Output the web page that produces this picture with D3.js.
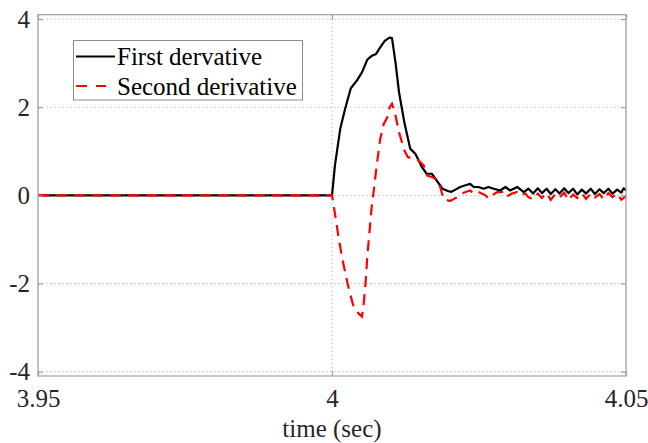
<!DOCTYPE html>
<html>
<head>
<meta charset="utf-8">
<script src="https://cdn.jsdelivr.net/npm/d3@7"></script>
<style>
  html, body { margin: 0; padding: 0; background: #fff; }
  svg { display: block; }
  text { font-family: "Liberation Serif", "Times New Roman", serif; }
</style>
</head>
<body>
<svg id="chart" width="648" height="443"></svg>
<script>
// ---- data (time in ms after 4.000 s) ----
const firstT = [-50, 0, 0.5, 1.4, 2.2, 3.2, 4.2, 5.1, 6.0, 6.8, 7.5, 8.2, 9.0, 9.8, 10.2, 10.8, 11.4, 12.3, 13.3, 14.2, 15.3, 16.1, 17.0, 18.0, 18.8, 19.7, 20.3, 21.0, 21.8, 22.7, 23.5, 24.1, 24.9, 25.8, 26.6, 27.5, 28.6, 29.5, 30.3, 31.5, 32.6, 33.4, 34.2, 35.0, 35.7, 36.5, 37.2, 38.0, 38.7, 39.5, 40.2, 41.0, 41.7, 42.5, 43.2, 44.0, 44.7, 45.5, 46.2, 47.0, 47.7, 48.5, 49.2, 49.6, 50.0];
const firstV = [0, 0, 0.68, 1.51, 1.95, 2.43, 2.6, 2.79, 3.08, 3.17, 3.21, 3.36, 3.51, 3.58, 3.57, 3.02, 2.34, 1.66, 1.06, 0.94, 0.64, 0.49, 0.49, 0.3, 0.15, 0.1, 0.08, 0.13, 0.19, 0.23, 0.26, 0.19, 0.19, 0.15, 0.19, 0.15, 0.11, 0.19, 0.11, 0.19, 0.075, 0.15, 0.04, 0.16, 0.05, 0.15, 0.03, 0.14, 0.04, 0.16, 0.05, 0.15, 0.02, 0.13, 0.04, 0.15, 0.03, 0.14, 0.05, 0.15, 0.04, 0.13, 0.06, 0.16, 0.12];
const secondT = [-50, 0, 0.5, 1.1, 1.7, 2.4, 2.9, 3.6, 4.5, 5.1, 5.4, 5.7, 6.0, 6.4, 6.8, 7.1, 7.6, 8.2, 8.8, 9.4, 9.8, 10.2, 10.8, 11.4, 12.3, 12.9, 13.8, 14.7, 15.6, 16.2, 17.1, 17.8, 18.4, 19.0, 20.1, 21.3, 22.1, 22.7, 23.5, 24.1, 24.9, 26.1, 26.6, 27.2, 28.1, 28.9, 29.5, 30.6, 31.5, 32.1, 32.9, 33.4, 34.2, 35.0, 35.7, 36.5, 37.2, 38.0, 38.7, 39.5, 40.2, 41.0, 41.7, 42.5, 43.2, 44.0, 44.7, 45.5, 46.2, 47.0, 47.7, 48.5, 49.2, 50.0];
const secondV = [0, 0, -0.41, -0.94, -1.4, -1.85, -2.15, -2.49, -2.68, -2.75, -2.45, -2.0, -1.4, -0.79, -0.19, 0.1, 0.68, 1.28, 1.62, 1.77, 2.0, 2.08, 1.81, 1.43, 1.02, 0.87, 0.83, 0.79, 0.68, 0.45, 0.41, 0.36, 0.19, -0.09, -0.13, -0.04, 0.04, 0.075, 0.11, 0.04, 0.075, 0, -0.075, 0, 0.075, 0.075, -0.04, 0.04, 0.075, 0, 0.04, -0.04, -0.09, 0.04, -0.06, 0.05, -0.1, 0.03, -0.05, 0.06, -0.11, 0.02, -0.06, 0.05, -0.08, 0.04, -0.05, 0.03, -0.09, 0.05, -0.04, 0.04, -0.1, -0.02];
const xTicks = [3.95, 4, 4.05];
const xTickLabels = ["3.95", "4", "4.05"];
const yTicks = [-4, -2, 0, 2, 4];
const yTickLabels = ["-4", "-2", "0", "2", "4"];
const seriesNames = ["First dervative", "Second derivative"];
const xLabel = "time (sec)";

// ---- layout ----
const svg = d3.select("#chart");
const L = 38, R = 626, T = 14.7, B = 376;
const x = d3.scaleLinear().domain([3.95, 4.05]).range([L, R]);
const y = d3.scaleLinear().domain([-4.1, 4.1]).range([B, T]);
const boxColor = "#a0a0a0";
const gridColor = "#a9c6de";
const textColor = "#262626";

// grid
const g = svg.append("g");
g.selectAll(".gx").data(xTicks).join("line")
  .attr("x1", d => x(d)).attr("x2", d => x(d)).attr("y1", T).attr("y2", B)
  .attr("stroke", gridColor).attr("stroke-width", 1).attr("stroke-dasharray", "1.5,2.5");
g.selectAll(".gy").data(yTicks).join("line")
  .attr("x1", L).attr("x2", R).attr("y1", d => y(d)).attr("y2", d => y(d))
  .attr("stroke", gridColor).attr("stroke-width", 1).attr("stroke-dasharray", "1.5,2.5");

// lines
const toPts = (ts, vs) => ts.map((t, i) => [4 + t / 1000, vs[i]]);
const line = d3.line().x(d => x(d[0])).y(d => y(d[1]));
svg.append("path").datum(toPts(firstT, firstV))
  .attr("d", line).attr("fill", "none").attr("stroke", "#000").attr("stroke-width", 2.2)
  .attr("stroke-linejoin", "round");
svg.append("path").datum(toPts(secondT, secondV))
  .attr("d", line).attr("fill", "none").attr("stroke", "#ff0000").attr("stroke-width", 2.2)
  .attr("stroke-dasharray", "11,7");

// box
svg.append("rect").attr("x", L).attr("y", T).attr("width", R - L).attr("height", B - T)
  .attr("fill", "none").attr("stroke", boxColor).attr("stroke-width", 1.2);

// axes with inward ticks
const xAxisB = d3.axisBottom(x).tickValues(xTicks).tickSize(-5).tickFormat((d, i) => xTickLabels[i]);
const xAxisT = d3.axisTop(x).tickValues(xTicks).tickSize(-5).tickFormat("");
const yAxisL = d3.axisLeft(y).tickValues(yTicks).tickSize(-5).tickFormat((d, i) => yTickLabels[i]);
const yAxisR = d3.axisRight(y).tickValues(yTicks).tickSize(-5).tickFormat("");

function style(sel) {
  sel.select(".domain").remove();
  sel.selectAll(".tick line").attr("stroke", boxColor).attr("stroke-width", 1.2);
  sel.selectAll(".tick text").attr("fill", textColor)
    .style("font-family", '"Liberation Serif", serif').style("font-size", "25px");
}
svg.append("g").attr("transform", `translate(0,${B})`).call(xAxisB).call(style)
  .selectAll(".tick text").attr("dy", null).attr("y", 31);
svg.append("g").attr("transform", `translate(0,${T})`).call(xAxisT).call(style);
svg.append("g").attr("transform", `translate(${L},0)`).call(yAxisL).call(style)
  .selectAll(".tick text").attr("x", -8).attr("dy", "0.33em");
svg.append("g").attr("transform", `translate(${R},0)`).call(yAxisR).call(style);

// x label
svg.append("text").attr("x", x(4)).attr("y", 437).attr("text-anchor", "middle")
  .attr("fill", textColor).style("font-size", "25px").text(xLabel);

// legend
const lg = svg.append("g");
lg.append("rect").attr("x", 73.5).attr("y", 40.5).attr("width", 229).attr("height", 59.5)
  .attr("fill", "#fff").attr("stroke", "#8a8a8a").attr("stroke-width", 1);
const legRows = [
  { name: seriesNames[0], color: "#000", dash: null, y: 56.5, x2: 115 },
  { name: seriesNames[1], color: "#ff0000", dash: "11,9", y: 86, x2: 106 }
];
legRows.forEach(r => {
  lg.append("line").attr("x1", 76).attr("x2", r.x2).attr("y1", r.y).attr("y2", r.y)
    .attr("stroke", r.color).attr("stroke-width", 2.2).attr("stroke-dasharray", r.dash);
  lg.append("text").attr("x", 117).attr("y", r.y + 8.5).attr("fill", "#000")
    .style("font-size", "25px").text(r.name);
});
</script>
</body>
</html>
